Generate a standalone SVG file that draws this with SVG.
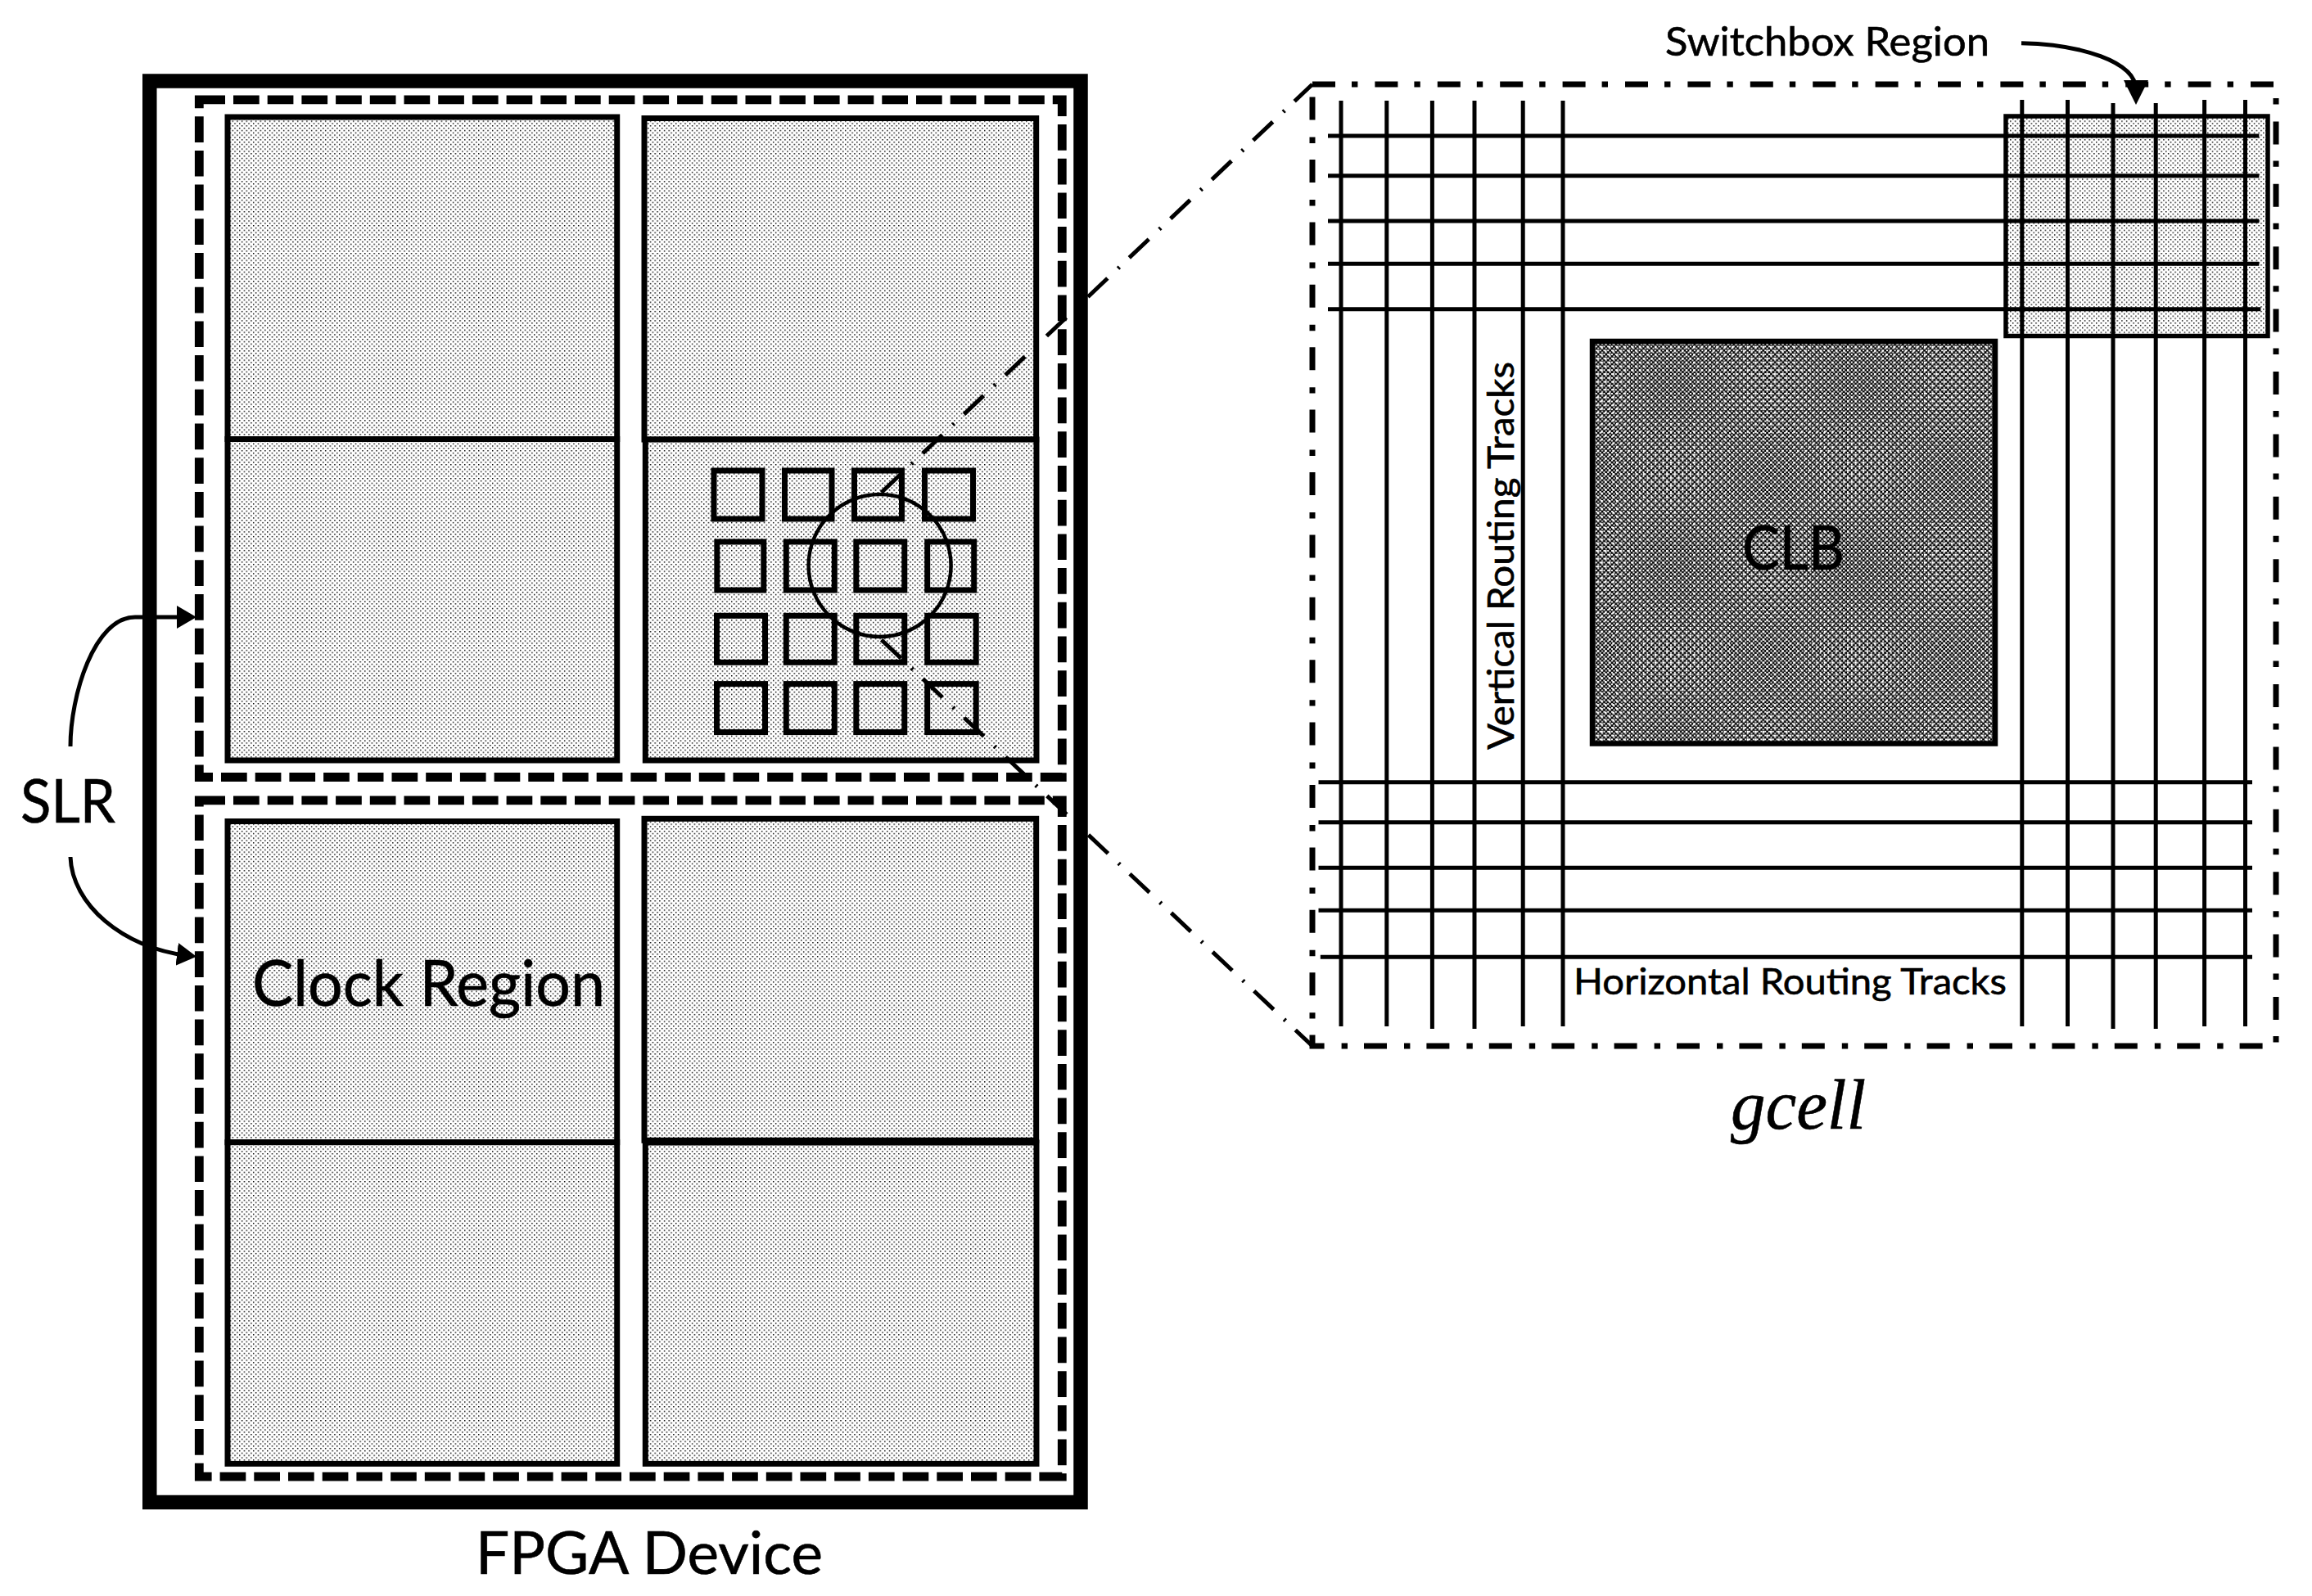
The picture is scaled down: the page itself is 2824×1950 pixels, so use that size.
<svg xmlns="http://www.w3.org/2000/svg" width="2824" height="1950" viewBox="0 0 2824 1950">
<style>
.box{fill:none;stroke:#000;stroke-width:7}
.slr{fill:none;stroke:#000;stroke-width:10.8;stroke-dasharray:31.7 10}
.cell{fill:none;stroke:#000;stroke-width:7}
.track{stroke:#000;stroke-width:5;fill:none}
.zoom{stroke:#000;stroke-width:5;fill:none;stroke-dasharray:33 17.5 2.5 16.5}
.curve{stroke:#000;stroke-width:5;fill:none}
text{font-family:Lato,"Liberation Sans",sans-serif;fill:#000;stroke:#000;stroke-width:.6}
</style>
<defs>
<pattern id="dots" width="5.67" height="5.67" patternUnits="userSpaceOnUse"><rect width="5.67" height="5.67" fill="#fff"/><rect width="1.45" height="1.45" fill="#000"/><rect x="2.83" y="2.83" width="1.45" height="1.45" fill="#000"/></pattern>
<pattern id="check" width="4.8" height="4.8" patternUnits="userSpaceOnUse"><rect width="4.8" height="4.8" fill="#000"/><rect width="2" height="2" fill="#fff"/><rect x="2.4" y="2.4" width="2" height="2" fill="#fff"/></pattern>
<pattern id="spots" width="9.4" height="9.4" patternUnits="userSpaceOnUse"><rect width="2.6" height="2.6" fill="#fff"/><rect x="4.7" y="4.7" width="2.6" height="2.6" fill="#fff"/></pattern>
<marker id="head" markerUnits="userSpaceOnUse" markerWidth="25" markerHeight="30" refX="12" refY="14" orient="auto"><path d="M0 0L24 14L0 28Z" fill="#000"/></marker>
<marker id="head2" markerUnits="userSpaceOnUse" markerWidth="32" markerHeight="32" refX="12" refY="15" orient="auto"><path d="M0 0L30 15L0 30Z" fill="#000"/></marker>
</defs>
<rect width="2824" height="1950" fill="#fff"/>

<g id="fpga-device"><rect x="182.75" y="99" width="1137.25" height="1736.5" fill="none" stroke="#000" stroke-width="17.5"/></g>
<g id="slr-top"><rect class="slr" x="243.3" y="121.8" width="1054" height="827.7"/></g>
<g id="slr-bottom"><rect class="slr" x="243.3" y="977.8" width="1054" height="826.3"/></g>

<g id="clock-region-tl"><rect class="box" x="278" y="143" width="475.7" height="393.5" style="fill:url(#dots)"/></g>
<g id="clock-region-tl2"><rect class="box" x="278" y="536.5" width="475.7" height="392.5" style="fill:url(#dots)"/></g>
<g id="clock-region-tr"><rect class="box" x="787" y="144.5" width="478.7" height="392.5" style="fill:url(#dots)"/></g>
<g id="clock-region-tr2"><rect class="box" x="788.3" y="537" width="477.7" height="392" style="fill:url(#dots)"/></g>
<g id="clock-region-bl"><rect class="box" x="278" y="1003.5" width="475.7" height="392.2" style="fill:url(#dots)"/></g>
<g id="clock-region-bl2"><rect class="box" x="278" y="1395.7" width="475.7" height="392.7" style="fill:url(#dots)"/></g>
<g id="clock-region-br"><rect class="box" x="787" y="1000.3" width="478.7" height="393" style="fill:url(#dots)"/></g>
<g id="clock-region-br2"><rect class="box" x="788.3" y="1396" width="477.7" height="392.4" style="fill:url(#dots)"/></g>

<g id="gcell-grid">
<rect class="cell" x="872" y="575" width="59" height="59"/><rect class="cell" x="958.5" y="575" width="57.5" height="59"/><rect class="cell" x="1043.5" y="575" width="58" height="59"/><rect class="cell" x="1129.5" y="575" width="59" height="59"/>
<rect class="cell" x="875.8" y="662" width="57" height="59"/><rect class="cell" x="960.3" y="662" width="59" height="59"/><rect class="cell" x="1045.8" y="662" width="59" height="59"/><rect class="cell" x="1132.7" y="662" width="57" height="59"/>
<rect class="cell" x="875.5" y="752.3" width="59" height="57"/><rect class="cell" x="960.3" y="752.3" width="59" height="57"/><rect class="cell" x="1045.8" y="752.3" width="59" height="57"/><rect class="cell" x="1132.7" y="752.3" width="59.5" height="57"/>
<rect class="cell" x="875.5" y="835.6" width="59" height="59"/><rect class="cell" x="960.3" y="835.6" width="59" height="59"/><rect class="cell" x="1045.8" y="835.6" width="59" height="59"/><rect class="cell" x="1132.7" y="835.6" width="59.5" height="59"/>
<circle cx="1074.6" cy="691" r="87" fill="none" stroke="#000" stroke-width="4.5"/>
</g>

<g id="gcell"><rect x="1603" y="103" width="1177" height="1175" fill="none" stroke="#000" stroke-width="7" stroke-dasharray="28 20 7.4 21"/></g>
<g id="switchbox"><rect x="2450" y="142" width="320" height="268.5" style="fill:url(#dots)" stroke="#000" stroke-width="5.5"/></g>
<g id="clb">
<rect x="1945" y="417" width="492" height="491.5" fill="url(#check)"/>
<rect x="1945" y="417" width="492" height="491.5" fill="url(#spots)" stroke="#000" stroke-width="6.5"/>
<text x="2128" y="696" font-size="76" textLength="125" lengthAdjust="spacingAndGlyphs">CLB</text>
</g>

<g id="connectors">
<g class="tracks">
<path class="track" d="M1638 123V1254M1693.8 123V1254M1749.4 123V1257M1801 123V1257M1860.2 123V1254M1909 123V1254"/>
<path class="track" d="M2469.8 122V1254M2525.5 122V1254M2581 126V1257M2633.2 126V1257M2692.6 122V1254M2742.5 122V1254"/>
<path class="track" d="M1622 166H2759.4M1622 214.7H2759.4M1622 270H2759.4M1622 322.3H2759.4M1622 377.7H2761.4"/>
<path class="track" d="M1610.5 955.7H2751M1610.5 1004.7H2751M1610.5 1060.3H2751M1610.5 1112.3H2751M1612.8 1169.3H2751"/>
</g>
<path class="zoom" d="M1076.6 601.7L1603 103"/>
<path class="zoom" d="M1076.6 781.7L1603 1278"/>
<path class="curve" d="M86 912C86 850 115 754 165 754H228" marker-end="url(#head)"/>
<path class="curve" d="M86 1047C88 1105 150 1158 228.1 1167.4" marker-end="url(#head)"/>
<path class="curve" d="M2469 52.7C2540 54 2609 75 2609 110" marker-end="url(#head2)"/>
</g>

<text id="label-slr" x="25" y="1005" font-size="74" textLength="116" lengthAdjust="spacingAndGlyphs">SLR</text>
<text id="label-clock" x="308" y="1229" font-size="78" textLength="431" lengthAdjust="spacingAndGlyphs">Clock Region</text>
<text id="label-fpga" x="581" y="1923" font-size="71" textLength="424" lengthAdjust="spacingAndGlyphs">FPGA Device</text>
<text id="label-switchbox" x="2034" y="67.7" font-size="48" textLength="396" lengthAdjust="spacingAndGlyphs">Switchbox Region</text>
<text id="label-horizontal" x="1922" y="1215" font-size="45" textLength="529" lengthAdjust="spacingAndGlyphs">Horizontal Routing Tracks</text>
<text id="label-vertical" transform="translate(1849,916) rotate(-90)" font-size="45" textLength="474" lengthAdjust="spacingAndGlyphs">Vertical Routing Tracks</text>
<text id="label-gcell" x="2114" y="1379" font-size="86" font-style="italic" textLength="165" lengthAdjust="spacingAndGlyphs" style="font-family:'Liberation Serif',serif">gcell</text>
</svg>
